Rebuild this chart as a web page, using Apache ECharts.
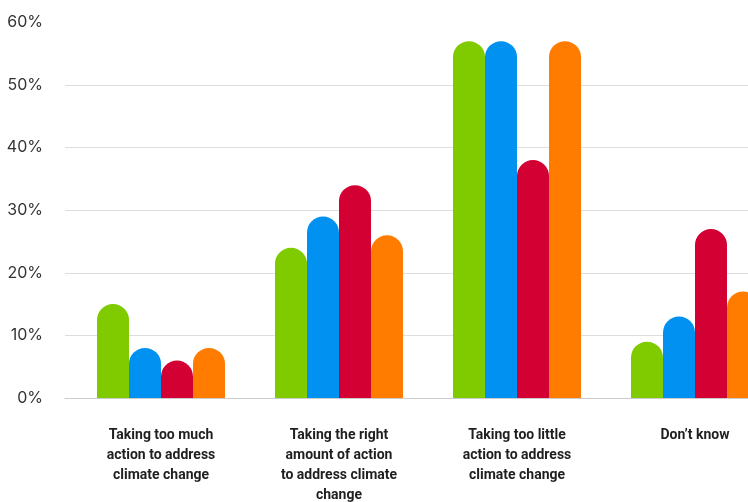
<!DOCTYPE html>
<html>
<head>
<meta charset="utf-8">
<script src="https://cdn.jsdelivr.net/npm/echarts@6/dist/echarts.min.js"></script>
<style>
  html, body { margin: 0; padding: 0; background: #fff; }
  #chart { width: 748px; height: 502px; }
</style>
</head>
<body>
<div id="chart"></div>
<script>
// Survey responses: views on how much action is being taken on climate change
const categories = [
  'Taking too much\naction to address\nclimate change',
  'Taking the right\namount of action\nto address climate\nchange',
  'Taking too little\naction to address\nclimate change',
  "Don\u2019t know"
];
const greenValues  = [15, 24, 57, 9];
const blueValues   = [8, 29, 57, 13];
const redValues    = [6, 34, 38, 27];
const orangeValues = [8, 26, 57, 17];
const seriesColors = ['#7fcb00', '#0091f1', '#d30034', '#ff7c00'];
const yTicks = { min: 0, max: 60, interval: 10 };

const chart = echarts.init(document.getElementById('chart'), null, { renderer: 'canvas' });

const barSeries = [greenValues, blueValues, redValues, orangeValues].map((vals, i) => ({
  type: 'bar',
  xAxisIndex: 1,
  yAxisIndex: 1,
  data: vals,
  barWidth: 32,
  barGap: '0%',
  itemStyle: { color: seriesColors[i], borderRadius: [16, 16, 0, 0] },
  silent: true
}));

chart.setOption({
  animation: false,
  backgroundColor: '#ffffff',
  grid: [
    { left: 65, right: 0, top: 22.4, bottom: 104, outerBoundsMode: 'none' },
    // bar grid runs past the right edge, so the last group is clipped
    { left: 72, right: -36, top: 22.4, bottom: 104, outerBoundsMode: 'none' }
  ],
  xAxis: [
    {
      type: 'category', gridIndex: 0, data: ['a'],
      axisLine: { show: true, lineStyle: { color: '#cccccc', width: 1 } },
      axisTick: { show: false }, axisLabel: { show: false }
    },
    {
      type: 'category', gridIndex: 1, data: categories,
      axisLine: { show: false }, axisTick: { show: false },
      axisLabel: {
        interval: 0, margin: 27,
        fontFamily: 'Roboto, sans-serif',
        fontWeight: 'bold', fontSize: 14, lineHeight: 20,
        color: '#1f1f1f', align: 'center', verticalAlign: 'top'
      }
    }
  ],
  yAxis: [
    {
      type: 'value', gridIndex: 0,
      min: yTicks.min, max: yTicks.max, interval: yTicks.interval,
      axisLine: { show: false }, axisTick: { show: false },
      axisLabel: {
        margin: 22, fontFamily: 'Inter, sans-serif', fontSize: 16, color: '#333333',
        formatter: v => v + '%'
      },
      splitLine: { show: true, showMaxLine: false, showMinLine: false, lineStyle: { color: '#dddddd', width: 1 } }
    },
    {
      type: 'value', gridIndex: 1,
      min: yTicks.min, max: yTicks.max, interval: yTicks.interval,
      show: false, splitLine: { show: false }
    }
  ],
  series: barSeries
});
</script>
</body>
</html>
